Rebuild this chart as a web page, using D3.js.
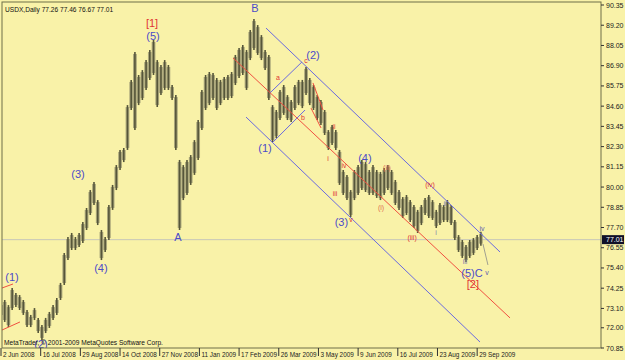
<!DOCTYPE html>
<html>
<head>
<meta charset="utf-8">
<title>USDX Daily</title>
<script src="https://d3js.org/d3.v7.min.js"></script>
<style>
  body { margin: 0; background: #f9f2a8; }
  svg { display: block; font-family: "Liberation Sans", Arial, sans-serif; }
</style>
</head>
<body>
<svg width="625" height="360"></svg>
<script>
// bar samples, one every 3 daily bars, starting 2 Jun 2008
const highs = [73.41,73.58,73.29,74.26,73.98,73.86,73.58,73.01,72.73,73.12,72.56,72.16,72.56,72.90,73.29,73.69,74.55,76.25,77.16,77.39,
  77.16,77.39,78.01,78.81,79.83,80.29,79.26,77.56,77.16,78.98,80.12,81.25,82.11,82.22,84.66,86.09,87.68,86.37,86.65,87.22,
  87.79,88.36,87.22,86.94,87.22,86.94,85.80,85.23,81.54,81.25,81.54,81.82,82.67,83.81,85.52,86.37,86.54,86.48,86.20,86.09,
  86.26,86.37,86.54,87.51,87.91,88.08,87.79,88.93,89.55,89.21,88.64,87.79,87.51,84.66,84.38,85.52,85.80,85.23,84.95,85.80,
  86.09,86.09,86.83,86.20,85.80,85.23,84.95,84.38,83.24,83.53,83.24,82.11,80.97,80.69,79.83,80.97,81.25,81.54,81.42,80.97,
  81.25,80.97,80.86,81.08,81.25,80.97,80.40,79.83,79.43,79.55,79.26,78.98,78.70,78.98,79.38,79.55,79.26,78.70,79.09,78.98,
  79.26,78.98,78.13,77.27,76.99,76.71,76.99,77.10,77.27,77.46];
const lows = [72.61,72.33,72.04,73.01,73.18,73.01,72.73,72.04,72.04,72.44,71.70,71.31,71.70,71.99,72.44,72.73,73.58,74.43,75.85,76.42,
  76.42,76.59,76.82,77.56,78.41,78.98,77.84,75.85,76.31,76.99,78.70,79.83,80.97,81.42,82.11,84.38,83.24,84.66,84.95,85.52,
  86.09,86.37,84.55,85.23,85.52,85.52,84.95,82.11,77.56,79.26,79.55,80.12,80.69,81.54,83.24,84.38,84.66,84.95,84.38,84.66,
  84.95,84.95,85.06,85.80,86.20,86.37,85.52,87.22,87.79,87.51,87.22,86.65,84.95,82.56,82.79,83.81,84.10,83.81,83.70,84.38,
  84.66,84.49,85.23,84.66,84.38,83.81,83.53,82.96,82.11,82.39,82.11,80.12,79.55,79.26,78.30,79.26,79.55,79.83,79.72,79.55,
  79.55,79.38,79.26,79.55,79.83,79.55,78.98,78.70,78.24,78.41,78.01,77.67,77.39,77.84,78.41,78.24,78.13,77.67,77.84,78.01,
  78.01,77.84,76.99,76.31,75.97,75.74,75.97,76.14,76.42,76.67];
const sampleStep = 3;

const priceTicks = [90.35,89.20,88.05,86.90,85.75,84.60,83.45,82.30,81.15,80.00,78.85,77.70,76.55,75.40,74.25,73.10,72.00,70.85];
const dateLabels = ["2 Jun 2008","16 Jul 2008","29 Aug 2008","14 Oct 2008","27 Nov 2008","11 Jan 2009","17 Feb 2009",
  "26 Mar 2009","3 May 2009","9 Jun 2009","16 Jul 2009","23 Aug 2009","29 Sep 2009"];
const barsPerLabel = 32;
const lastPrice = 77.01;

// drawn objects in [bar, price] units
const blueLines = [
  [[213.7,89.04],[402.4,76.31]],
  [[197.6,83.98],[386.3,71.19]],
  [[216.9,85.35],[242.7,87.11]],
  [[219.4,82.56],[245.2,84.38]]
];
const redLines = [
  [[187.1,87.34],[410.5,72.56]],
  [[251.6,85.92],[259.7,84.38]],
  [[250.0,84.49],[258.1,83.36]],
  [[0.8,74.26],[9.7,74.49]],
  [[0.8,71.87],[15.3,72.33]]
];
const grayLines = [[[388.7,76.76],[392.7,75.57]]];

const bigLabels = [
  ["[1]",121.8,89.33,"#e03434"],["(5)",122.6,88.59,"#4c4cc8"],["B",204.8,90.20,"#4c4cc8"],
  ["(2)",251.6,87.51,"#4c4cc8"],["(1)",8.9,74.89,"#4c4cc8"],["(1)",212.9,82.22,"#4c4cc8"],
  ["(3)",62.1,80.74,"#4c4cc8"],["(3)",274.5,78.01,"#4c4cc8"],["(4)",80.6,75.40,"#4c4cc8"],
  ["(4)",293.5,81.65,"#4c4cc8"],["A",142.7,77.16,"#4c4cc8"],["(2)",32.3,71.05,"#4c4cc8"],
  ["(5)C",379.8,75.11,"#4c4cc8"],["[2]",380.6,74.49,"#e03434"]
];
const smallLabels = [
  ["a",223.4,86.20,"#e03434"],["b",243.5,83.98,"#e03434"],["c",246.0,87.17,"#e03434"],
  ["i",263.7,81.65,"#e03434"],["ii",268.5,83.47,"#e03434"],["iii",269.4,79.61,"#e03434"],
  ["iv",276.6,81.25,"#e03434"],["v",282.3,78.13,"#e03434"],
  ["(ii)",311.3,81.14,"#e07050"],["(i)",306.5,78.81,"#e07050"],["(iii)",331.5,77.16,"#e03434"],
  ["(iv)",346.0,80.17,"#e03434"],
  ["i",350.8,77.39,"#8080a8"],["ii",358.1,79.09,"#8080a8"],["iii",374.2,75.74,"#8080a8"],
  ["iv",387.9,77.67,"#6060b0"],["v",391.9,75.17,"#6060b0"]
];

const svg = d3.select("svg");
const plotLeft = 2, plotRight = 601, plotTop = 2, plotBottom = 348;

const x = d3.scaleLinear().domain([0, barsPerLabel]).range([1, 40.68]);
const y = d3.scaleLinear().domain([90.35, 70.85]).range([5, 348]);

svg.append("rect").attr("width", 625).attr("height", 360).attr("fill", "#f9f2a8");

const plot = svg.append("g");
plot.append("clipPath").attr("id", "clip").append("rect")
  .attr("x", plotLeft).attr("y", plotTop).attr("width", plotRight - plotLeft).attr("height", plotBottom - plotTop);
const g = plot.append("g").attr("clip-path", "url(#clip)");

// current price line
g.append("line").attr("x1", plotLeft).attr("x2", plotRight)
  .attr("y1", y(lastPrice)).attr("y2", y(lastPrice))
  .attr("stroke", "#c8c8b8").attr("stroke-width", 1);

// bars: light body with a darker stroke in the middle
const bw = x(sampleStep) - x(0);
g.selectAll("rect.bar").data(highs).enter().append("rect")
  .attr("class", "bar")
  .attr("x", (d, i) => x(i * sampleStep) - bw / 2)
  .attr("y", d => y(d) + 2)
  .attr("width", bw)
  .attr("height", (d, i) => Math.max(1, y(lows[i]) - y(d) - 4))
  .attr("fill", "#a9a57a");
g.selectAll("line.stem").data(highs).enter().append("line")
  .attr("class", "stem")
  .attr("x1", (d, i) => x(i * sampleStep)).attr("x2", (d, i) => x(i * sampleStep))
  .attr("y1", d => y(d)).attr("y2", (d, i) => y(lows[i]))
  .attr("stroke", "#56563a").attr("stroke-width", 1.6);

const line = d3.line().x(d => x(d[0])).y(d => y(d[1]));
g.selectAll("path.blue").data(blueLines).enter().append("path")
  .attr("d", line).attr("stroke", "#6a6ae0").attr("fill", "none").attr("stroke-width", 1);
g.selectAll("path.red").data(redLines).enter().append("path")
  .attr("d", line).attr("stroke", "#f05040").attr("fill", "none").attr("stroke-width", 1);
g.selectAll("path.gray").data(grayLines).enter().append("path")
  .attr("d", line).attr("stroke", "#a0a090").attr("fill", "none").attr("stroke-width", 1);

g.selectAll("text.big").data(bigLabels).enter().append("text")
  .attr("x", d => x(d[1])).attr("y", d => y(d[2]))
  .attr("text-anchor", "middle").attr("dominant-baseline", "central")
  .attr("font-size", 11).attr("fill", d => d[3]).text(d => d[0]);
g.selectAll("text.small").data(smallLabels).enter().append("text")
  .attr("x", d => x(d[1])).attr("y", d => y(d[2]))
  .attr("text-anchor", "middle").attr("dominant-baseline", "central")
  .attr("font-size", 7).attr("fill", d => d[3]).text(d => d[0]);

// frame
svg.append("rect").attr("x", plotLeft).attr("y", plotTop)
  .attr("width", plotRight - plotLeft).attr("height", plotBottom - plotTop)
  .attr("fill", "none").attr("stroke", "#6e6e48").attr("stroke-width", 1);

// price axis
const yAxis = svg.append("g");
yAxis.selectAll("line").data(priceTicks).enter().append("line")
  .attr("x1", plotRight).attr("x2", plotRight + 3)
  .attr("y1", d => y(d)).attr("y2", d => y(d)).attr("stroke", "#333");
yAxis.selectAll("text").data(priceTicks).enter().append("text")
  .attr("x", plotRight + 5).attr("y", d => y(d))
  .attr("dominant-baseline", "central").attr("font-size", 7).attr("fill", "#222")
  .text(d => d.toFixed(2));
svg.append("rect").attr("x", plotRight + 1).attr("y", y(lastPrice) - 4.5)
  .attr("width", 22).attr("height", 9).attr("fill", "#101028");
svg.append("text").attr("x", plotRight + 5).attr("y", y(lastPrice))
  .attr("dominant-baseline", "central").attr("font-size", 7).attr("fill", "#fff")
  .text(lastPrice.toFixed(2));

// date axis
const xAxis = svg.append("g");
xAxis.selectAll("line").data(dateLabels).enter().append("line")
  .attr("x1", (d, i) => x(i * barsPerLabel)).attr("x2", (d, i) => x(i * barsPerLabel))
  .attr("y1", plotBottom).attr("y2", plotBottom + 8).attr("stroke", "#333");
xAxis.selectAll("text").data(dateLabels).enter().append("text")
  .attr("x", (d, i) => x(i * barsPerLabel) + 2).attr("y", plotBottom + 9)
  .attr("font-size", 6.4).attr("fill", "#222").text(d => d);

// header and copyright
svg.append("text").attr("x", 5).attr("y", 9).attr("dominant-baseline", "central")
  .attr("font-size", 6.6).attr("fill", "#111")
  .text("USDX,Daily  77.26 77.46 76.67 77.01");
svg.append("text").attr("x", 4).attr("y", 342).attr("dominant-baseline", "central")
  .attr("font-size", 6.6).attr("fill", "#111")
  .text("MetaTrader, \u00a9 2001-2009 MetaQuotes Software Corp.");
</script>
</body>
</html>
